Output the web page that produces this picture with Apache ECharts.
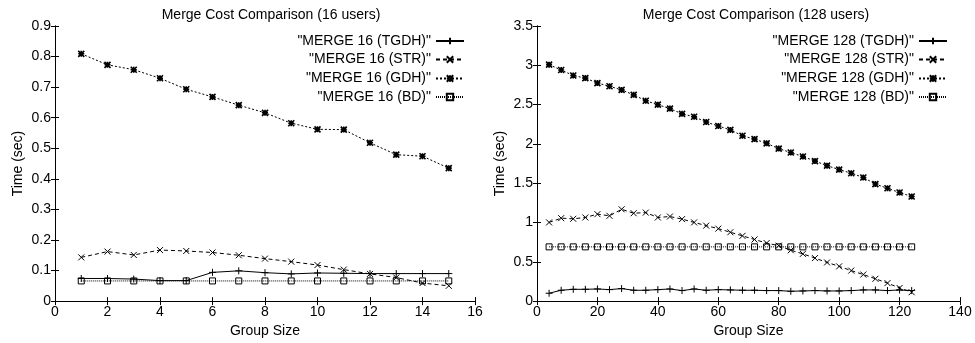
<!DOCTYPE html>
<html>
<head>
<meta charset="utf-8">
<script src="https://cdn.jsdelivr.net/npm/echarts@6/dist/echarts.min.js"></script>
<style>
  html, body { margin: 0; padding: 0; background: #fff; }
  #chart { width: 975px; height: 343px; }
</style>
</head>
<body>
<div id="chart"></div>
<script>
// group sizes
const sizes16 = [1, 2, 3, 4, 5, 6, 7, 8, 9, 10, 11, 12, 13, 14, 15];
const sizes128 = [4, 8, 12, 16, 20, 24, 28, 32, 36, 40, 44, 48, 52, 56, 60, 64,
  68, 72, 76, 80, 84, 88, 92, 96, 100, 104, 108, 112, 116, 120, 124];

// 16 users (sec)
const tgdh16 = [0.074, 0.074, 0.072, 0.067, 0.067, 0.094, 0.099, 0.093, 0.089, 0.092, 0.091, 0.090, 0.090, 0.090, 0.090];
const str16 = [0.143, 0.162, 0.151, 0.167, 0.164, 0.159, 0.150, 0.139, 0.129, 0.118, 0.103, 0.089, 0.077, 0.059, 0.050];
const gdh16 = [0.809, 0.773, 0.757, 0.729, 0.693, 0.668, 0.641, 0.616, 0.582, 0.562, 0.561, 0.518, 0.479, 0.474, 0.435];
const bd16 = [0.066, 0.066, 0.066, 0.066, 0.066, 0.066, 0.066, 0.066, 0.066, 0.066, 0.066, 0.066, 0.066, 0.066, 0.066];

// 128 users (sec)
const tgdh128 = [0.100, 0.138, 0.150, 0.150, 0.154, 0.146, 0.159, 0.138, 0.138, 0.146, 0.154, 0.134, 0.154, 0.138, 0.146, 0.142,
  0.138, 0.138, 0.134, 0.134, 0.125, 0.129, 0.134, 0.129, 0.129, 0.134, 0.142, 0.142, 0.134, 0.142, 0.134];
const str128 = [1.001, 1.055, 1.047, 1.064, 1.106, 1.085, 1.168, 1.118, 1.126, 1.064, 1.076, 1.043, 1.001, 0.960, 0.922, 0.876,
  0.830, 0.784, 0.738, 0.705, 0.647, 0.601, 0.547, 0.492, 0.442, 0.388, 0.338, 0.284, 0.229, 0.167, 0.113];
const gdh128 = [3.008, 2.940, 2.870, 2.837, 2.774, 2.733, 2.687, 2.624, 2.549, 2.499, 2.449, 2.382, 2.345, 2.278, 2.228, 2.178,
  2.103, 2.061, 2.007, 1.940, 1.890, 1.840, 1.781, 1.723, 1.673, 1.627, 1.573, 1.489, 1.435, 1.381, 1.331];
const bd128 = [0.69, 0.69, 0.69, 0.69, 0.69, 0.69, 0.69, 0.69, 0.69, 0.69, 0.69, 0.69, 0.69, 0.69, 0.69, 0.69,
  0.69, 0.69, 0.69, 0.69, 0.69, 0.69, 0.69, 0.69, 0.69, 0.69, 0.69, 0.69, 0.69, 0.69, 0.69];

const FONT = '"Liberation Sans", Arial, sans-serif';

// gnuplot-like point types
const marks = {
  TGDH: { symbol: 'path://M0,5L10,5M5,0L5,10', size: 7, dash: 'solid', bw: 1 },
  STR: { symbol: 'path://M0,0L10,10M10,0L0,10', size: 6, dash: [4, 3], bw: 1 },
  GDH: { symbol: 'path://M0,5L10,5M5,0L5,10M0,0L10,10M10,0L0,10', size: 6, dash: [2, 2], bw: 1.6 },
  BD: { symbol: 'rect', size: 6, dash: [1, 1], bw: 1 }
};

function mkSeries(name, kind, xs, ys, gi) {
  const m = marks[kind];
  return {
    name: name,
    type: 'line',
    xAxisIndex: gi * 2,
    yAxisIndex: gi * 2,
    data: xs.map((x, i) => [x, ys[i]]),
    symbol: m.symbol,
    symbolSize: m.size,
    showAllSymbol: true,
    animation: false,
    lineStyle: { color: '#000', width: 1, type: m.dash },
    itemStyle: { color: 'transparent', borderColor: '#000', borderWidth: m.bw },
    emphasis: { disabled: true }
  };
}

function axes(gi, xmax, xint, ymax, yint) {
  const tick = { show: true, inside: true, length: 4, lineStyle: { color: '#000' } };
  const line = { show: true, lineStyle: { color: '#000', width: 1 } };
  const lbl = { fontFamily: FONT, fontSize: 14, color: '#000', margin: 4 };
  const x = [
    { type: 'value', gridIndex: gi, min: 0, max: xmax, interval: xint, position: 'bottom',
      axisLine: line, axisTick: tick, axisLabel: lbl, splitLine: { show: false },
      name: 'Group Size', nameLocation: 'middle', nameGap: 21,
      nameTextStyle: { fontFamily: FONT, fontSize: 14, color: '#000' } },
    { type: 'value', gridIndex: gi, min: 0, max: xmax, interval: xint, position: 'top',
      axisLine: line, axisTick: tick, axisLabel: { show: false }, splitLine: { show: false } }
  ];
  const y = [
    { type: 'value', gridIndex: gi, min: 0, max: ymax, interval: yint, position: 'left',
      axisLine: line, axisTick: tick, axisLabel: lbl, splitLine: { show: false },
      name: 'Time (sec)', nameLocation: 'middle', nameGap: 30, nameRotate: 90,
      nameTextStyle: { fontFamily: FONT, fontSize: 14, color: '#000' } },
    { type: 'value', gridIndex: gi, min: 0, max: ymax, interval: yint, position: 'right',
      axisLine: line, axisTick: tick, axisLabel: { show: false }, splitLine: { show: false } }
  ];
  return { x, y };
}

const a0 = axes(0, 16, 2, 0.9, 0.1);
const a1 = axes(1, 140, 20, 3.5, 0.5);

const names16 = ['"MERGE 16 (TGDH)"', '"MERGE 16 (STR)"', '"MERGE 16 (GDH)"', '"MERGE 16 (BD)"'];
const names128 = ['"MERGE 128 (TGDH)"', '"MERGE 128 (STR)"', '"MERGE 128 (GDH)"', '"MERGE 128 (BD)"'];
const rowTops = [34, 52.5, 71.5, 90];

function legends(names, right) {
  return names.map((n, i) => ({
    data: [n],
    right: right,
    top: rowTops[i],
    orient: 'vertical',
    align: 'right',
    padding: 0,
    itemWidth: 28,
    itemHeight: 8,
    selectedMode: false,
    textStyle: { fontFamily: FONT, fontSize: 14, color: '#000' }
  }));
}

const chart = echarts.init(document.getElementById('chart'), null, { renderer: 'canvas' });
chart.setOption({
  backgroundColor: '#fff',
  animation: false,
  title: [
    { text: 'Merge Cost Comparison (16 users)', left: 266, top: 3, textAlign: 'center',
      textStyle: { fontFamily: FONT, fontSize: 14, fontWeight: 'normal', color: '#000' } },
    { text: 'Merge Cost Comparison (128 users)', left: 751, top: 3, textAlign: 'center',
      textStyle: { fontFamily: FONT, fontSize: 14, fontWeight: 'normal', color: '#000' } }
  ],
  grid: [
    { left: 55, right: 500, top: 26, bottom: 37 },
    { left: 537, right: 15, top: 26, bottom: 37 }
  ],
  xAxis: a0.x.concat(a1.x),
  yAxis: a0.y.concat(a1.y),
  legend: legends(names16, 510).concat(legends(names128, 27)),
  series: [
    mkSeries(names16[0], 'TGDH', sizes16, tgdh16, 0),
    mkSeries(names16[1], 'STR', sizes16, str16, 0),
    mkSeries(names16[2], 'GDH', sizes16, gdh16, 0),
    mkSeries(names16[3], 'BD', sizes16, bd16, 0),
    mkSeries(names128[0], 'TGDH', sizes128, tgdh128, 1),
    mkSeries(names128[1], 'STR', sizes128, str128, 1),
    mkSeries(names128[2], 'GDH', sizes128, gdh128, 1),
    mkSeries(names128[3], 'BD', sizes128, bd128, 1)
  ]
});
</script>
</body>
</html>
